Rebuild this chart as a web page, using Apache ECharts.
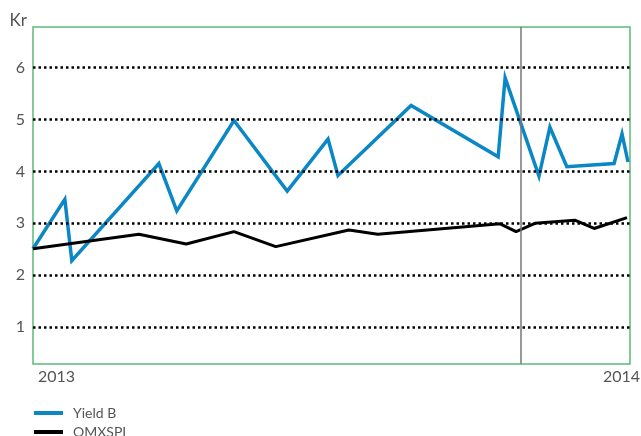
<!DOCTYPE html>
<html><head><meta charset="utf-8">
<script src="https://cdn.jsdelivr.net/npm/echarts@6/dist/echarts.min.js"></script>
<style>html,body{margin:0;padding:0;background:#fff}#c{width:641px;height:436px}</style>
</head><body><div id="c"></div>
<script>
// x = months since start of 2013
const yieldX = [0, 0.64, 0.78, 2.53, 2.89, 4.04, 5.11, 5.93, 6.13, 7.60, 9.35, 9.49, 10.17, 10.39, 10.73, 11.68, 11.84, 11.96];
const yieldY = [2.51, 3.46, 2.28, 4.15, 3.24, 4.98, 3.62, 4.62, 3.92, 5.27, 4.28, 5.80, 3.91, 4.85, 4.09, 4.15, 4.72, 4.18];
const omxX = [0, 2.13, 3.08, 4.04, 4.88, 6.35, 6.93, 9.39, 9.71, 10.09, 10.89, 11.28, 11.94];
const omxY = [2.51, 2.79, 2.60, 2.84, 2.55, 2.87, 2.79, 2.99, 2.84, 3.00, 3.06, 2.90, 3.11];
const yTicks = [1, 2, 3, 4, 5, 6];
const xLabels = ['2013', '2014'];
const markerX = 9.81;
const seriesNames = ['Yield B', 'OMXSPI'];

const font = 'Lato, "Open Sans", sans-serif';
const chart = echarts.init(document.getElementById('c'), null, {renderer: 'canvas'});
chart.setOption({
  animation: false,
  textStyle: {fontFamily: font},
  grid: {left: 33, right: 11, top: 27, bottom: 72, show: true, borderColor: '#5cba7a', borderWidth: 1.5},
  legend: {
    orient: 'vertical', left: 34, top: 406, itemWidth: 29, itemHeight: 4, itemGap: 5,
    height: 40, icon: 'rect', padding: 0,
    textStyle: {fontSize: 14, color: '#555', fontFamily: font, padding: [0, 0, 0, 5]},
    data: seriesNames
  },
  xAxis: {
    type: 'value', min: 0, max: 12,
    axisLine: {show: false}, axisTick: {show: false}, splitLine: {show: false},
    axisLabel: {show: false}
  },
  yAxis: {
    type: 'value', min: 0.29, max: 6.78,
    name: 'Kr', nameLocation: 'end', nameGap: 0,
    nameTextStyle: {fontSize: 17, color: '#555', align: 'right', verticalAlign: 'bottom', padding: [0, 6, -2, 0], fontFamily: font},
    axisLine: {show: false}, axisTick: {show: false}, splitLine: {show: false},
    axisLabel: {customValues: yTicks, fontSize: 16, color: '#555', margin: 8, fontFamily: font}
  },
  graphic: [
    {type: 'text', left: 38, top: 369, style: {text: xLabels[0], fontSize: 16, fill: '#555', fontFamily: font}},
    {type: 'text', right: 1, top: 369, style: {text: xLabels[1], fontSize: 16, fill: '#555', fontFamily: font}}
  ],
  series: [
    {
      name: seriesNames[0], type: 'line', symbol: 'none', z: 3,
      data: yieldX.map((x, i) => [x, yieldY[i]]),
      lineStyle: {color: '#0a87c4', width: 3.5, join: 'miter'},
      itemStyle: {color: '#0a87c4'}
    },
    {
      name: seriesNames[1], type: 'line', symbol: 'none', z: 4,
      data: omxX.map((x, i) => [x, omxY[i]]),
      lineStyle: {color: '#000', width: 3},
      itemStyle: {color: '#000'},
      markLine: {
        silent: true, symbol: 'none', label: {show: false},
        data: [
          ...yTicks.map(v => ({yAxis: v, lineStyle: {color: '#000', width: 2.5, type: [2.5, 3]}})),
          {xAxis: markerX, lineStyle: {color: '#777', width: 1.5, type: 'solid'}}
        ]
      }
    }
  ]
});
</script></body></html>
